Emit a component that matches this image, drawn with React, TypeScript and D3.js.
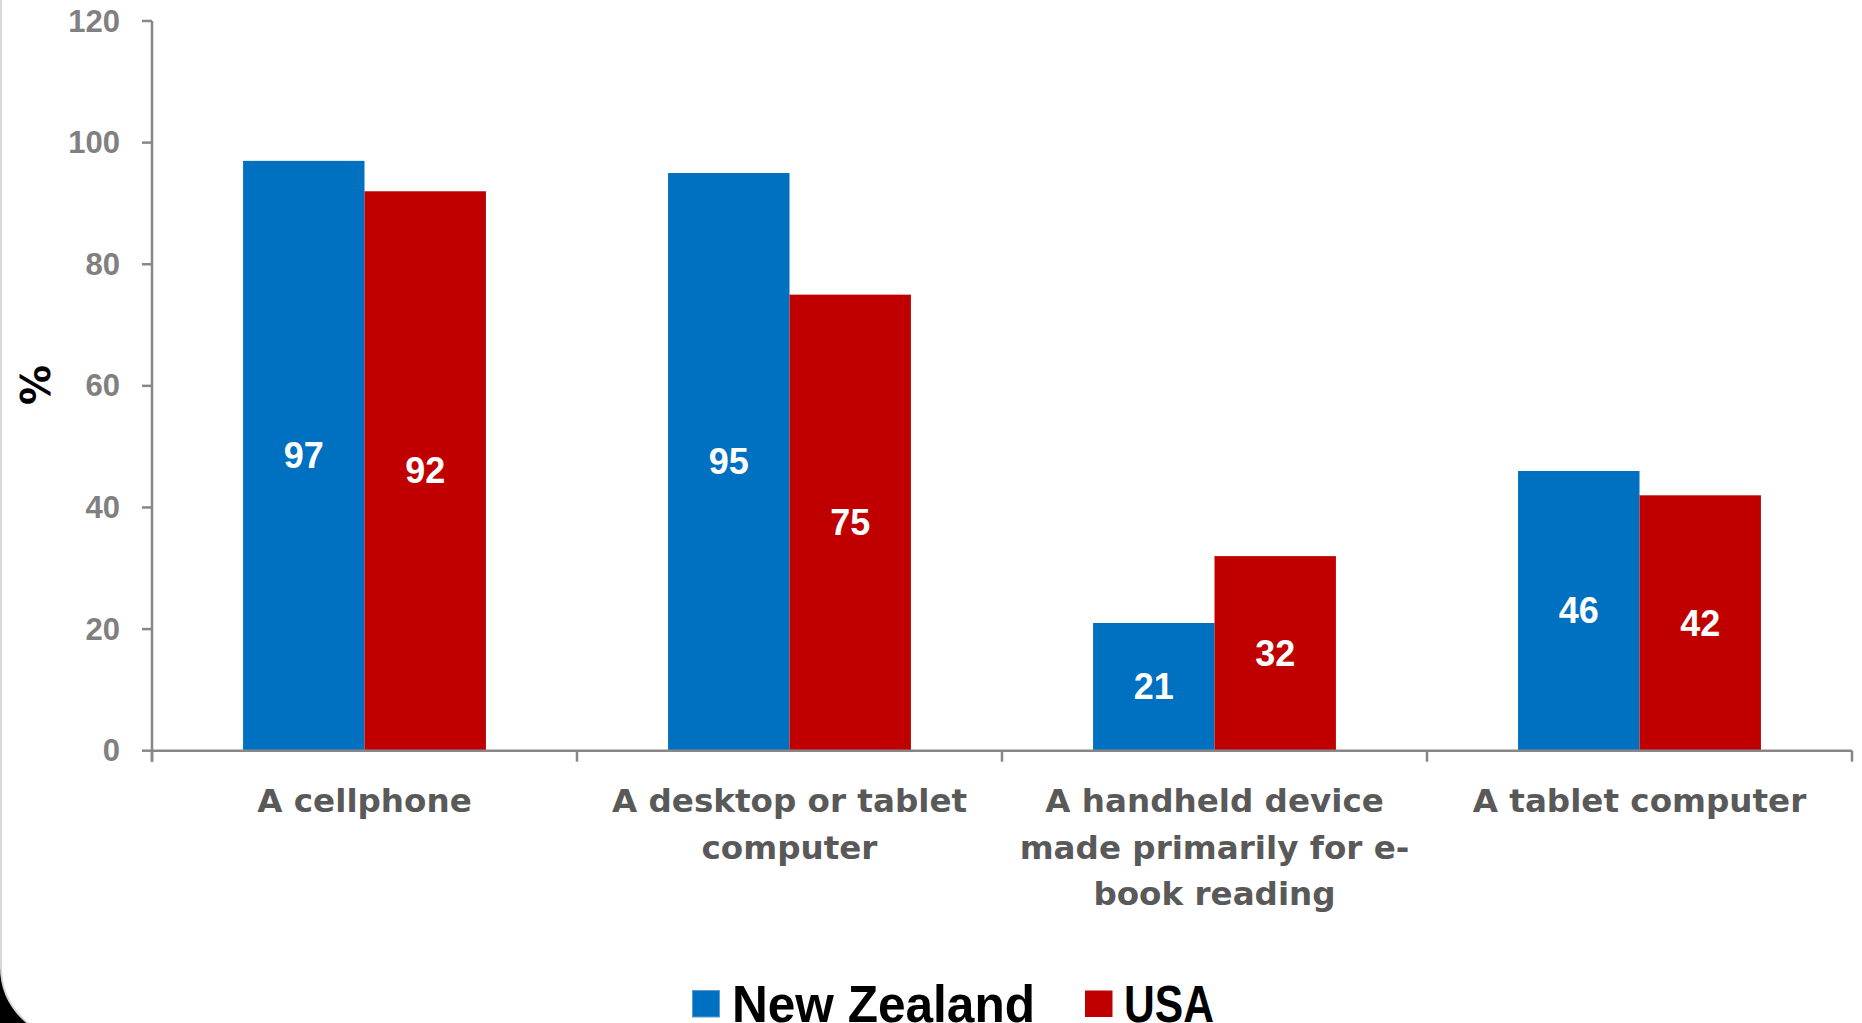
import React from "react";
import * as d3 from "d3";

const categories = [
  "A cellphone",
  "A desktop or tablet computer",
  "A handheld device made primarily for e-book reading",
  "A tablet computer",
];
const categoryLines = [
  ["A cellphone"],
  ["A desktop or tablet", "computer"],
  ["A handheld device", "made primarily for e-", "book reading"],
  ["A tablet computer"],
];
const seriesNames = ["New Zealand", "USA"];
const newZealand = [97, 95, 21, 46];
const usa = [92, 75, 32, 42];
const yTicks = [0, 20, 40, 60, 80, 100, 120];
const colors = ["#0070C0", "#C00000"];

const W = 1862;
const H = 1023;
const left = 152;
const right = 1852;
const top = 21;
const bottom = 750.7;

export default function App() {
  const x = d3
    .scaleBand<string>()
    .domain(categories)
    .range([left, right])
    .paddingInner(0.4286)
    .paddingOuter(0.2143);
  const xs = d3.scaleBand<string>().domain(seriesNames).range([0, x.bandwidth()]).padding(0);
  const y = d3.scaleLinear().domain([0, 120]).range([bottom, top]);
  const series = [newZealand, usa];
  const step = x.step();
  const boundaries = d3.range(categories.length + 1).map((i) => left + i * step);
  const axisColor = "#878787";
  const numFont = "'Liberation Sans', Arial, sans-serif";
  const catFont = "'DejaVu Sans', sans-serif";

  return (
    <svg
      width={W}
      height={H}
      style={{ position: "absolute", left: 0, top: 0, display: "block" }}
    >
      <rect x={0} y={0} width={W} height={H} fill="#000" />
      <rect x={1} y={-300} width={W + 300} height={1039 + 300} rx={72} fill="#fff" stroke="#d9d9d9" strokeWidth={2} />

      {/* bars */}
      {series.map((vals, si) =>
        categories.map((c, ci) => {
          const bx = (x(c) as number) + (xs(seriesNames[si]) as number);
          const by = y(vals[ci]);
          const bh = y(0) - by;
          return (
            <g key={`${si}-${ci}`}>
              <rect x={bx} y={by} width={xs.bandwidth()} height={bh} fill={colors[si]} />
              <text
                x={bx + xs.bandwidth() / 2}
                y={by + bh / 2}
                textAnchor="middle"
                dominantBaseline="central"
                fill="#fff"
                fontFamily={numFont}
                fontWeight="bold"
                fontSize={36}
              >
                {vals[ci]}
              </text>
            </g>
          );
        })
      )}

      {/* y axis */}
      <line x1={left} x2={left} y1={top} y2={bottom + 11} stroke={axisColor} strokeWidth={2.5} />
      {yTicks.map((t) => (
        <g key={t}>
          <line x1={left - 10} x2={left} y1={y(t)} y2={y(t)} stroke={axisColor} strokeWidth={2.5} />
          <text
            x={120}
            y={y(t)}
            textAnchor="end"
            dominantBaseline="central"
            fill="#808080"
            fontFamily={numFont}
            fontWeight="bold"
            fontSize={31}
          >
            {t}
          </text>
        </g>
      ))}

      {/* x axis */}
      <line x1={left} x2={right} y1={bottom} y2={bottom} stroke={axisColor} strokeWidth={2.5} />
      {boundaries.map((b, i) => (
        <line key={i} x1={b} x2={b} y1={bottom} y2={bottom + 11} stroke={axisColor} strokeWidth={2.5} />
      ))}
      {categories.map((c, ci) => (
        <text
          key={c}
          x={(x(c) as number) + x.bandwidth() / 2}
          y={812}
          textAnchor="middle"
          fill="#595959"
          fontFamily={catFont}
          fontWeight="bold"
          fontSize={32.6}
        >
          {categoryLines[ci].map((ln, li) => (
            <tspan key={li} x={(x(c) as number) + x.bandwidth() / 2} dy={li === 0 ? 0 : 46.5}>
              {ln}
            </tspan>
          ))}
        </text>
      ))}

      {/* y label */}
      <text
        transform="translate(50,385) rotate(-90)"
        textAnchor="middle"
        fill="#000"
        fontFamily={catFont}
        fontWeight="bold"
        fontSize={40}
      >
        %
      </text>

      {/* legend */}
      <rect x={692.5} y={990.5} width={27} height={26.5} fill={colors[0]} stroke="#5a9bd5" strokeWidth={1} />
      <text x={732} y={1022} fill="#000" fontFamily={numFont} fontWeight="bold" fontSize={52} textLength={303} lengthAdjust="spacingAndGlyphs">
        {seriesNames[0]}
      </text>
      <rect x={1085} y={990.5} width={27.5} height={26.5} fill={colors[1]} />
      <text x={1124} y={1022} fill="#000" fontFamily={numFont} fontWeight="bold" fontSize={52} textLength={90} lengthAdjust="spacingAndGlyphs">
        {seriesNames[1]}
      </text>
    </svg>
  );
}
